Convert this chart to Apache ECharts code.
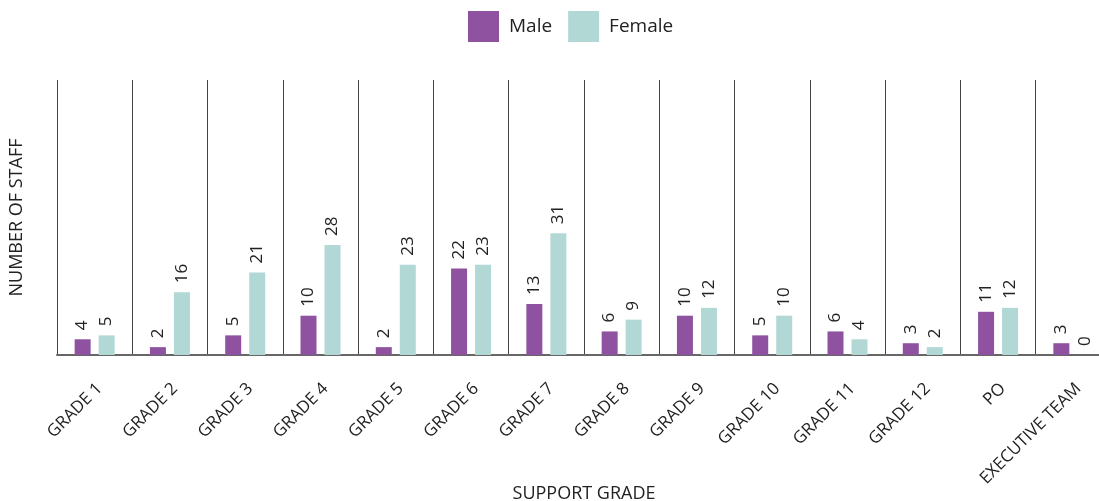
<!DOCTYPE html>
<html><head><meta charset="utf-8">
<script src="https://cdn.jsdelivr.net/npm/echarts@6/dist/echarts.min.js"></script>
<style>html,body{margin:0;padding:0;background:#fff}#c{width:1099px;height:501px}</style>
</head><body><div id="c"></div>
<script>
const categories = ['GRADE 1','GRADE 2','GRADE 3','GRADE 4','GRADE 5','GRADE 6','GRADE 7','GRADE 8','GRADE 9','GRADE 10','GRADE 11','GRADE 12','PO','EXECUTIVE TEAM'];
const maleValues = [4,2,5,10,2,22,13,6,10,5,6,3,11,3];
const femaleValues = [5,16,21,28,23,23,31,9,12,10,4,2,12,0];
const font = '"Open Sans", "Noto Sans", sans-serif';
const chart = echarts.init(document.getElementById('c'));
const label = {show:true, position:'top', rotate:90, align:'left', verticalAlign:'middle', distance:9, color:'#222', fontSize:17, fontFamily:font};
chart.setOption({
  animation:false,
  legend:{top:6, left:463, itemWidth:31, itemHeight:31, itemGap:16, icon:'rect',
    textStyle:{fontSize:19, color:'#222', fontFamily:font, padding:[0,0,0,5]}},
  grid:{left:57, width:1054, top:80, bottom:146, containLabel:false, outerBoundsMode:'none'},
  xAxis:{type:'category', data:categories, name:'SUPPORT GRADE', nameLocation:'middle', nameGap:130, nameMoveOverlap:false,
    nameTextStyle:{fontSize:18, color:'#222', fontFamily:font},
    axisLine:{show:true, lineStyle:{color:'#666', width:2}}, axisTick:{show:false},
    splitLine:{show:true, lineStyle:{color:'#444', width:1}},
    axisLabel:{rotate:45, fontSize:17, lineHeight:14, verticalAlign:'top', color:'#222', fontFamily:font, margin:26, interval:0}},
  yAxis:{type:'value', min:0, max:70, name:'NUMBER OF STAFF', nameLocation:'middle', nameGap:31,
    nameTextStyle:{fontSize:18, color:'#222', fontFamily:font},
    axisLine:{show:false}, axisTick:{show:false}, axisLabel:{show:false}, splitLine:{show:false}},
  series:[
    {name:'Male', type:'bar', data:maleValues, barWidth:16, barGap:'50%', itemStyle:{color:'#8e52a0'}, label:label},
    {name:'Female', type:'bar', data:femaleValues, barWidth:16, itemStyle:{color:'#b2d8d6'}, label:label}
  ]
});
</script></body></html>
